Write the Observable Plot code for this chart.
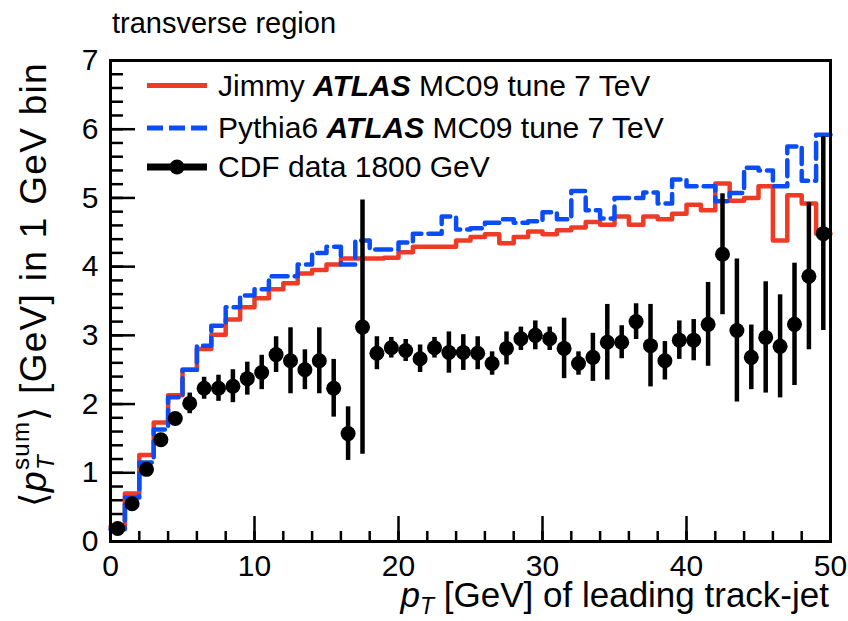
<!DOCTYPE html>
<html>
<head>
<meta charset="utf-8">
<script src="https://cdn.jsdelivr.net/npm/d3@7"></script>
<script src="https://cdn.jsdelivr.net/npm/@observablehq/plot@0.6"></script>
<style>
  body { margin: 0; background: #fff; }
  #chart { width: 848px; height: 621px; }
</style>
</head>
<body>
<div id="chart"></div>
<script>
// ---- data (1 GeV bins from 0 to 50 GeV) ----
const binEdges = d3.range(0, 51);            // 0,1,...,50
const jimmy = [0.22, 0.70, 1.26, 1.73, 2.13, 2.50, 2.80, 3.01, 3.23, 3.41,
               3.54, 3.67, 3.76, 3.90, 3.95, 4.03, 4.12, 4.12, 4.12, 4.13,
               4.21, 4.29, 4.29, 4.29, 4.38, 4.43, 4.47, 4.34, 4.43, 4.51,
               4.47, 4.53, 4.57, 4.65, 4.61, 4.73, 4.61, 4.73, 4.69, 4.77,
               4.90, 4.82, 5.21, 4.96, 5.00, 5.17, 4.38, 5.04, 4.92, 4.48];
const pythia = [0.18, 0.64, 1.15, 1.63, 2.10, 2.50, 2.85, 3.14, 3.41, 3.58,
                3.67, 3.86, 3.86, 4.03, 4.20, 4.29, 4.03, 4.38, 4.25, 4.25,
                4.35, 4.48, 4.48, 4.73, 4.54, 4.56, 4.64, 4.69, 4.64, 4.66,
                4.79, 4.69, 5.10, 4.82, 4.70, 5.00, 5.00, 5.08, 4.92, 5.27,
                5.17, 5.17, 4.95, 5.07, 5.44, 5.40, 5.17, 5.75, 5.25, 5.92];
const cdf = [0.19, 0.55, 1.05, 1.48, 1.79, 2.01, 2.23, 2.23, 2.26, 2.37,
             2.46, 2.72, 2.63, 2.50, 2.63, 2.23, 1.57, 3.12, 2.74, 2.82,
             2.78, 2.66, 2.82, 2.75, 2.75, 2.74, 2.59, 2.81, 2.95, 3.00,
             2.95, 2.81, 2.59, 2.68, 2.90, 2.90, 3.20, 2.85, 2.63, 2.93,
             2.93, 3.16, 4.18, 3.07, 2.68, 2.97, 2.84, 3.16, 3.86, 4.48];
const cdfErr = [0.03, 0.04, 0.05, 0.06, 0.07, 0.15, 0.16, 0.19, 0.24, 0.24,
                0.25, 0.26, 0.48, 0.29, 0.48, 0.42, 0.39, 1.85, 0.24, 0.15,
                0.16, 0.20, 0.15, 0.30, 0.26, 0.24, 0.17, 0.24, 0.17, 0.21,
                0.17, 0.44, 0.17, 0.35, 0.55, 0.24, 0.26, 0.60, 0.28, 0.28,
                0.30, 0.61, 0.88, 1.04, 0.47, 0.81, 0.75, 0.89, 1.07, 1.41];

const xMajor = [0, 10, 20, 30, 40, 50];
const xMinor = d3.range(0, 51, 2);
const yMajor = [0, 1, 2, 3, 4, 5, 6, 7];
const yMinor = d3.range(0, 36).map(i => i / 5);

const legendLabels = [
  ["Jimmy ", "ATLAS", " MC09 tune 7 TeV"],
  ["Pythia6 ", "ATLAS", " MC09 tune 7 TeV"],
  ["CDF data 1800 GeV", "", ""]
];
const titleText = "transverse region";

// ---- styles / layout ----
const RED = "#ef3b26", BLUE = "#0a4cf5";
const FONT = "'Liberation Sans', Arial, Helvetica, sans-serif";
const W = 848, H = 621, ML = 110, MR = 18, MT = 60, MB = 80;
const innerW = W - ML - MR, innerH = H - MT - MB;

// step outlines: value of each bin at its lower edge, plus closing point at upper edge
const stepRows = vals => binEdges.map((e, i) => ({x: e, y: vals[Math.min(i, vals.length - 1)]}));
const cdfRows = cdf.map((v, i) => ({x: (binEdges[i] + binEdges[i + 1]) / 2, y: v, e: cdfErr[i]}));

const plot = Plot.plot({
  width: W, height: H,
  marginLeft: ML, marginRight: MR, marginTop: MT, marginBottom: MB,
  style: {fontFamily: FONT, fontSize: "30px", color: "black", background: "white", overflow: "visible"},
  x: {domain: [0, 50]},
  y: {domain: [0, 7]},
  marks: [
    // tick labels
    Plot.axisX({ticks: xMajor, tickSize: 0, tickPadding: 13, tickFormat: "d", fontSize: 30, label: null}),
    Plot.axisY({ticks: yMajor, tickSize: 0, tickPadding: 12, tickFormat: "d", fontSize: 30, label: null}),
    // inward ticks
    Plot.tickX(xMinor, {x: d => d, insetTop: innerH - 10, stroke: "black", strokeWidth: 2.5}),
    Plot.tickX(xMajor, {x: d => d, insetTop: innerH - 25, stroke: "black", strokeWidth: 2.5}),
    Plot.tickY(yMinor, {y: d => d, insetRight: innerW - 13, stroke: "black", strokeWidth: 2.5}),
    Plot.tickY(yMajor, {y: d => d, insetRight: innerW - 25, stroke: "black", strokeWidth: 2.5}),
    // MC histograms
    Plot.line(stepRows(jimmy), {x: "x", y: "y", curve: "step-after", stroke: RED, strokeWidth: 4.5}),
    Plot.line(stepRows(pythia), {x: "x", y: "y", curve: "step-after", stroke: BLUE, strokeWidth: 4.5, strokeDasharray: "16,7"}),
    // data
    Plot.ruleX(cdfRows, {x: "x", y1: d => d.y - d.e, y2: d => d.y + d.e, stroke: "black", strokeWidth: 4.5}),
    Plot.dot(cdfRows, {x: "x", y: "y", r: 7.5, fill: "black", stroke: "none"}),
    Plot.frame({stroke: "black", strokeWidth: 3})
  ]
});
document.getElementById("chart").appendChild(plot);

// ---- annotations ----
const svg = d3.select(plot);

svg.append("text")
  .attr("x", 112).attr("y", 33)
  .attr("text-anchor", "start")
  .style("font-size", "29px").style("font-family", FONT)
  .text(titleText);

// y-axis title
const yt = svg.append("text")
  .attr("transform", "translate(46,62) rotate(-90)")
  .attr("text-anchor", "end")
  .style("font-size", "37px").style("font-family", FONT)
  .style("letter-spacing", "1.3px");
yt.append("tspan").text("\u27E8");
yt.append("tspan").attr("font-style", "italic").text("p");
yt.append("tspan").attr("font-size", "24px").attr("font-style", "italic").attr("dy", 8).text("T");
yt.append("tspan").attr("font-size", "24px").attr("dx", -16).attr("dy", -25).text("sum");
yt.append("tspan").attr("dy", 17).text("\u27E9 [GeV] in 1 GeV bin");

// x-axis title
const xt = svg.append("text")
  .attr("x", 829).attr("y", 607)
  .attr("text-anchor", "end")
  .style("font-size", "35px").style("font-family", FONT);
xt.append("tspan").attr("font-style", "italic").text("p");
xt.append("tspan").attr("font-size", "23px").attr("font-style", "italic").attr("dy", 7).text("T");
xt.append("tspan").attr("dy", -7).text(" [GeV] of leading track-jet");

// legend
const rowsY = [85.5, 128, 167];
const lg = svg.append("g").style("font-family", FONT).style("font-size", "30px").attr("text-anchor", "start");
lg.append("line").attr("x1", 147).attr("x2", 207).attr("y1", rowsY[0]).attr("y2", rowsY[0])
  .attr("stroke", RED).attr("stroke-width", 5);
lg.append("line").attr("x1", 147).attr("x2", 207).attr("y1", rowsY[1]).attr("y2", rowsY[1])
  .attr("stroke", BLUE).attr("stroke-width", 5).attr("stroke-dasharray", "16,6");
lg.append("line").attr("x1", 147).attr("x2", 207).attr("y1", rowsY[2]).attr("y2", rowsY[2])
  .attr("stroke", "black").attr("stroke-width", 7);
lg.append("circle").attr("cx", 177).attr("cy", rowsY[2]).attr("r", 7.5).attr("fill", "black");
legendLabels.forEach((parts, i) => {
  const t = lg.append("text").attr("x", 218).attr("y", rowsY[i] + 10).attr("text-anchor", "start");
  t.append("tspan").text(parts[0]);
  if (parts[1]) t.append("tspan").attr("font-weight", "bold").attr("font-style", "italic").text(parts[1]);
  if (parts[2]) t.append("tspan").text(parts[2]);
});
</script>
</body>
</html>
